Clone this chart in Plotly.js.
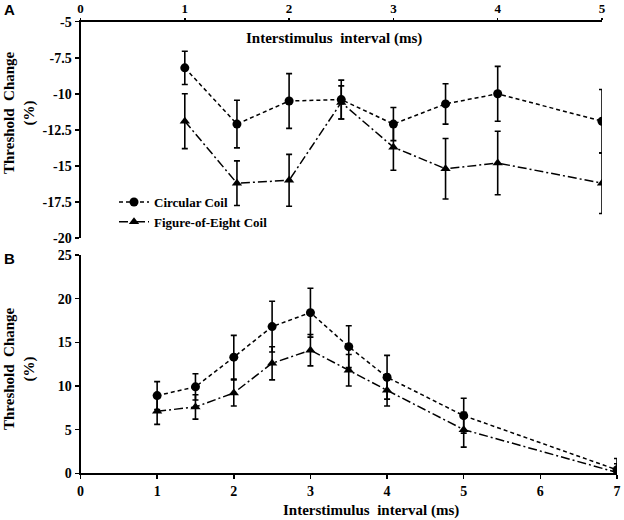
<!DOCTYPE html>
<html>
<head>
<meta charset="utf-8">
<script src="https://cdn.plot.ly/plotly-3.0.1.min.js"></script>
<style>
  html, body { margin: 0; padding: 0; background: #fff; }
  #chart { width: 624px; height: 520px; }
</style>
</head>
<body>
<div id="chart"></div>
<script>
// panel A: threshold change at each ISI (negative)
var isiA = [1, 1.5, 2, 2.5, 3, 3.5, 4, 5];
var circA = [-8.2, -12.1, -10.5, -10.4, -12.1, -10.7, -10.0, -11.9];
var circAErr = [1.15, 1.65, 1.9, 1.35, 1.15, 1.4, 1.9, 2.2];
var eightA = [-11.9, -16.2, -16.0, -10.6, -13.7, -15.2, -14.8, -16.2];
var eightAErr = [1.9, 1.55, 1.8, 1.15, 1.6, 2.1, 2.2, 2.1];

// panel B: threshold change (positive)
var isiB = [1, 1.5, 2, 2.5, 3, 3.5, 4, 5, 7];
var circB = [8.9, 9.9, 13.3, 16.8, 18.4, 14.5, 11.0, 6.6, 0.4];
var circBErr = [1.6, 1.5, 2.5, 2.9, 2.8, 2.4, 2.5, 2.0, 1.3];
var eightB = [7.1, 7.6, 9.2, 12.6, 14.1, 11.8, 9.5, 5.0, 0.1];
var eightBErr = [1.5, 1.4, 1.5, 1.9, 1.8, 1.8, 1.8, 2.0, 1.0];

var tickA = [-20, -17.5, -15, -12.5, -10, -7.5, -5];
var tickAText = ['-20', '-17.5', '-15', '-12.5', '-10', '-7.5', '-5'];

var W = 624, H = 520;
function px(x) { return x / W; }
function py(y) { return 1 - y / H; }

var serif = 'Liberation Serif';
var tickFont = {family: serif, size: 14, color: '#000', weight: 'bold'};

function errBar(arr) {
    return {type: 'data', array: arr, visible: true, color: '#000', thickness: 1.6, width: 3};
}

var circLine = {color: '#000', width: 1.5, dash: '4px,3px'};
var eightLine = {color: '#000', width: 1.5, dash: '9px,3px,2px,3px'};

var data = [
    {
        x: isiA, y: circA, error_y: errBar(circAErr),
        name: 'Circular Coil', mode: 'lines+markers', type: 'scatter',
        line: circLine, marker: {symbol: 'circle', size: 9, color: '#000'},
        xaxis: 'x', yaxis: 'y'
    },
    {
        x: isiA, y: eightA, error_y: errBar(eightAErr),
        name: 'Figure-of-Eight Coil', mode: 'lines+markers', type: 'scatter',
        line: eightLine, marker: {symbol: 'triangle-up', size: 9, color: '#000'},
        xaxis: 'x', yaxis: 'y'
    },
    {
        x: isiB, y: circB, error_y: errBar(circBErr),
        name: 'Circular Coil', mode: 'lines+markers', type: 'scatter', showlegend: false,
        line: circLine, marker: {symbol: 'circle', size: 9, color: '#000'},
        xaxis: 'x2', yaxis: 'y2'
    },
    {
        x: isiB, y: eightB, error_y: errBar(eightBErr),
        name: 'Figure-of-Eight Coil', mode: 'lines+markers', type: 'scatter', showlegend: false,
        line: eightLine, marker: {symbol: 'triangle-up', size: 9, color: '#000'},
        xaxis: 'x2', yaxis: 'y2'
    }
];

var axisBase = {
    showline: true, linecolor: '#000', linewidth: 2,
    ticks: 'outside', ticklen: 4, tickwidth: 1.5, tickcolor: '#000',
    showgrid: false, zeroline: false, tickfont: tickFont
};

function note(text, x, y, size, extra) {
    var a = {
        text: text, x: px(x), y: py(y), xref: 'paper', yref: 'paper',
        xanchor: 'center', yanchor: 'middle', showarrow: false,
        font: {family: serif, size: size, color: '#000', weight: 'bold'}
    };
    return Object.assign(a, extra || {});
}

var sans = {family: 'Liberation Sans', size: 15, color: '#000', weight: 'bold'};

var layout = {
    width: W, height: H,
    margin: {l: 0, r: 0, t: 0, b: 0},
    paper_bgcolor: '#fff', plot_bgcolor: 'rgba(0,0,0,0)',
    showlegend: true,
    legend: {
        x: px(114), y: py(187), xanchor: 'left', yanchor: 'top',
        bgcolor: 'rgba(0,0,0,0)', tracegroupgap: 0,
        font: {family: serif, size: 13, color: '#000', weight: 'bold'}
    },
    xaxis: Object.assign({}, axisBase, {
        domain: [px(80.5), px(602)], range: [0, 5], dtick: 1, side: 'top', anchor: 'y',
        ticklen: 2, tickfont: {family: serif, size: 13, color: '#000', weight: 'bold'}
    }),
    yaxis: Object.assign({}, axisBase, {
        domain: [py(238), py(21.7)], range: [-20, -5],
        tickvals: tickA, ticktext: tickAText, anchor: 'x'
    }),
    xaxis2: Object.assign({}, axisBase, {
        domain: [px(80.5), px(617)], range: [0, 7], dtick: 1, anchor: 'y2'
    }),
    yaxis2: Object.assign({}, axisBase, {
        domain: [py(473.3), py(255)], range: [0, 25], dtick: 5, anchor: 'x2'
    }),
    annotations: [
        note('A', 9, 9, 15, {font: sans}),
        note('B', 9, 258, 15, {font: sans}),
        note('Interstimulus  interval (ms)', 334, 39, 15),
        note('Interstimulus  interval (ms)', 371, 510, 15),
        note('Threshold  Change<br>(%)', 19, 113, 15, {textangle: -90}),
        note('Threshold  Change<br>(%)', 19, 369, 15, {textangle: -90})
    ]
};

Plotly.newPlot('chart', data, layout, {displayModeBar: false, staticPlot: true});
</script>
</body>
</html>
